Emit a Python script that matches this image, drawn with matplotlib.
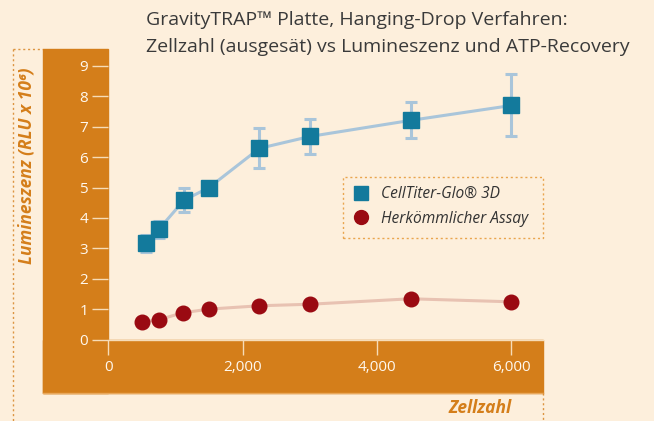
import matplotlib
matplotlib.use("Agg")
import matplotlib.pyplot as plt
from matplotlib.patches import Rectangle
from matplotlib.lines import Line2D

plt.rcParams['font.family'] = ['Open Sans', 'DejaVu Sans']

# data
cells_glo = [560, 750, 1125, 1500, 2250, 3000, 4500, 6000]
lum_glo = [3.16, 3.62, 4.58, 5.0, 6.29, 6.68, 7.21, 7.70]
err_glo = [0.28, 0.27, 0.40, 0.10, 0.66, 0.56, 0.59, 1.02]
cells_std = [500, 750, 1110, 1500, 2250, 3000, 4500, 6000]
lum_std = [0.58, 0.65, 0.88, 1.0, 1.11, 1.16, 1.34, 1.24]
xticks = [0, 2000, 4000, 6000]
yticks = list(range(10))
labels = ['CellTiter-Glo® 3D', 'Herkömmlicher Assay']

bg = '#fdefdc'
orange = '#d47e1a'
light = '#f6dcb8'
blue = '#137a9c'
blue_l = '#a9c5da'
red = '#9a0a12'
red_l = '#e8c2b2'

W, H = 654, 421
fig = plt.figure(figsize=(W / 100, H / 100), dpi=100, facecolor=bg)

def fx(px):
    return px / W

def fy(py):
    return 1 - py / H

# orange L band
fig.patches.append(Rectangle((fx(43), fy(393)), fx(108) - fx(43), fy(49) - fy(393),
                             transform=fig.transFigure, color=orange, zorder=-2))
fig.patches.append(Rectangle((fx(43), fy(393)), fx(543) - fx(43), fy(340) - fy(393),
                             transform=fig.transFigure, color=orange, zorder=-2))
fig.add_artist(Line2D([fx(43), fx(543)], [fy(392.5), fy(392.5)], transform=fig.transFigure,
                      color='#e9a85c', lw=1, zorder=-1))
# dotted guide lines
dot = dict(transform=fig.transFigure, color=orange, lw=1, ls=(0, (1.5, 2)), alpha=0.8)
fig.add_artist(Line2D([fx(13), fx(13)], [fy(49), fy(421)], **dot))
fig.add_artist(Line2D([fx(13), fx(43)], [fy(49), fy(49)], **dot))
fig.add_artist(Line2D([fx(543), fx(543)], [fy(393), fy(421)], **dot))
# legend frame
fig.patches.append(Rectangle((fx(343), fy(238)), fx(543) - fx(343), fy(177) - fy(238),
                             transform=fig.transFigure, fill=False, edgecolor='#e9a54e',
                             lw=1, ls=(0, (1.5, 2))))

ax = fig.add_axes([fx(108.3), fy(339.5), fx(543) - fx(108.3), fy(49) - fy(339.5)])
ax.set_facecolor('none')
ax.set_xlim(0, (543 - 108.3) / 0.06717)
ax.set_ylim(0, (339.5 - 49) / 30.39)

ax.plot(cells_std, lum_std, color=red_l, lw=2.2, zorder=2)
ax.plot(cells_std, lum_std, 'o', color=red, ms=10.5, zorder=3, clip_on=False)
ax.errorbar(cells_glo, lum_glo, yerr=err_glo, fmt='none', ecolor=blue_l,
            elinewidth=2.2, capsize=4.5, capthick=2.2, zorder=2)
ax.plot(cells_glo, lum_glo, color=blue_l, lw=2.2, zorder=2)
ax.plot(cells_glo, lum_glo, 's', color=blue, ms=11, zorder=3, clip_on=False)

for s in ['top', 'right', 'left']:
    ax.spines[s].set_visible(False)
ax.spines['bottom'].set_color(light)
ax.spines['bottom'].set_linewidth(1)

ax.set_xticks(xticks)
ax.set_xticklabels([f'{v:,}' for v in xticks])
ax.set_yticks(yticks)
ax.tick_params(axis='y', direction='out', length=11.5, width=1, color=light,
               labelcolor='#fff8ee', labelsize=11, pad=3)
ax.tick_params(axis='x', direction='out', length=10.5, width=1, color=light,
               labelcolor='#fff8ee', labelsize=11, pad=4)

handles = [Line2D([], [], marker='s', ls='none', color=blue, ms=10.5),
           Line2D([], [], marker='o', ls='none', color=red, ms=10)]
leg = fig.legend(handles, labels, loc='upper left', bbox_to_anchor=(fx(345), fy(180)),
                 frameon=False, prop=dict(style='italic', size=11.2), labelcolor='#333333',
                 handletextpad=0.7, labelspacing=0.55, borderaxespad=0, handlelength=1.2)

fig.text(fx(27), fy(166), 'Lumineszenz (RLU x 10⁶)', rotation=90, ha='center', va='center',
         color=orange, fontsize=12.5, fontweight='bold', style='italic')
fig.text(fx(512), fy(408), 'Zellzahl', ha='right', va='center',
         color=orange, fontsize=12.5, fontweight='bold', style='italic')

fig.text(fx(146), fy(20), 'GravityTRAP™ Platte, Hanging-Drop Verfahren:', ha='left',
         va='center', fontsize=14, color='#3a3a3a')
fig.text(fx(146), fy(47), 'Zellzahl (ausgesät) vs Lumineszenz und ATP-Recovery', ha='left',
         va='center', fontsize=14, color='#3a3a3a')

fig.savefig('out.png', dpi=100, facecolor=bg)
